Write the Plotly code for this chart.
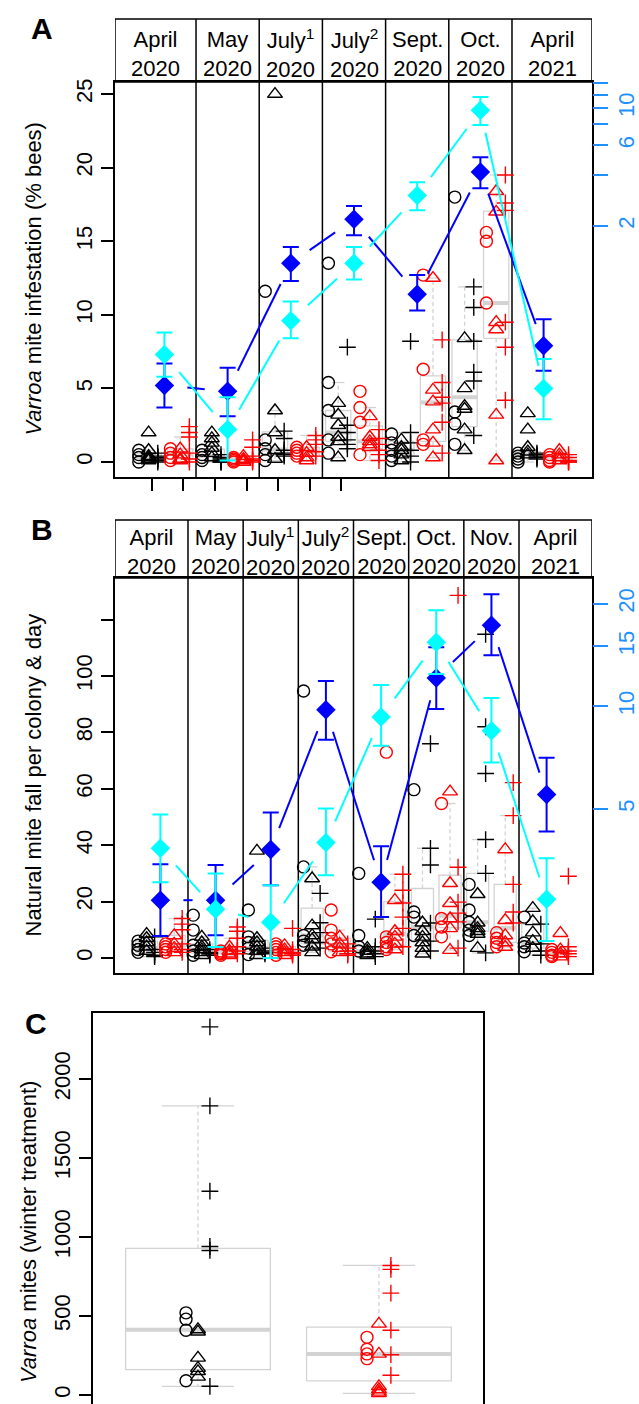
import math
import plotly.graph_objects as go

W, H = 639, 1404
FONT = "Liberation Sans, Arial, Helvetica, sans-serif"
BLUE = "#0000FF"
CYAN = "#00FFFF"
RED = "#FF0000"
BLK = "#000000"
GRAY = "#D3D3D3"
DODGER = "#1E90FF"

# ---------------- Panel A data (infestation, % bees) ----------------
A_MONTHS = ["April<br>2020", "May<br>2020", "July<sup>1</sup><br>2020", "July<sup>2</sup><br>2020",
            "Sept.<br>2020", "Oct.<br>2020", "April<br>2021"]
A_BLK_CIRC = [[0.8, 0.5, 0.3, 0.0], [0.8, 0.5, 0.3, 0.1], [11.6, 1.5, 0.9, 0.5, 0.1],
              [13.5, 5.4, 3.5, 1.5, 0.6], [1.9, 1.3, 0.8, 0.4, 0.1], [18.0, 3.4, 2.6, 1.2],
              [0.6, 0.4, 0.2, 0.0]]
A_BLK_TRI = [[2.0, 0.8, 0.4, 0.3, 0.2, 0.1], [2.0, 1.6, 1.3, 0.95, 0.6, 0.3], [25.0, 3.5, 2.0, 0.8, 0.2],
             [4.0, 3.2, 2.5, 1.7, 1.4, 0.3], [1.5, 1.0, 0.8, 0.5, 0.1], [8.4, 5.0, 3.8, 3.6, 2.2, 0.8],
             [3.3, 2.2, 1.0, 0.7, 0.5]]
A_BLK_PLUS = [[0.6, 0.4, 0.3, 0.2, 0.1, 0.0], [0.5, 0.3, 0.2, 0.1, 0.0, 0.0], [2.1, 1.6, 0.8, 0.6, 0.5, 0.4],
              [7.8, 2.5, 2.0, 1.5, 1.2, 0.9], [8.2, 2.0, 1.3, 0.8, 0.4, 0.0], [11.9, 10.5, 8.2, 6.1, 5.5, 1.8],
              [0.6, 0.5, 0.4, 0.3, 0.2]]
A_RED_CIRC = [[0.9, 0.6, 0.3, 0.1], [0.3, 0.2, 0.1, 0.0], [1.0, 0.8, 0.6, 0.4], [4.8, 3.7, 2.7, 0.5],
              [12.7, 6.3, 1.5, 1.2], [15.6, 15.0, 10.8], [0.5, 0.3, 0.1, 0.0]]
A_RED_TRI = [[0.9, 0.5, 0.2, 0.1], [0.4, 0.2, 0.1, 0.0], [1.0, 0.6, 0.3, 0.1], [3.1, 1.7, 1.4, 1.2, 1.0],
             [12.5, 4.9, 4.1, 2.2, 1.3, 0.3], [18.4, 17.0, 9.5, 9.0, 3.2, 0.1], [0.8, 0.5, 0.3, 0.1]]
A_RED_PLUS = [[2.4, 2.0, 1.7, 0.6, 0.2, 0.0], [1.5, 1.0, 0.4, 0.2, 0.1, 0.0], [1.8, 1.5, 1.2, 0.7, 0.4],
              [2.2, 1.6, 1.2, 0.8, 0.5, 0.1], [8.3, 5.4, 4.4, 4.0, 2.7, 0.6], [19.5, 17.6, 17.1, 9.5, 7.8, 4.2],
              [0.5, 0.3, 0.1, 0.0, 0.0]]
A_BLUE = [5.2, 4.8, 13.5, 16.5, 11.4, 19.7, 7.9]
A_BLUE_HI = [6.7, 6.4, 14.6, 17.4, 12.7, 20.7, 9.7]
A_BLUE_LO = [3.7, 3.1, 12.3, 15.4, 10.3, 18.6, 6.2]
A_CYAN = [7.3, 2.2, 9.6, 13.5, 18.1, 23.9, 5.0]
A_CYAN_HI = [8.8, 4.4, 10.9, 14.6, 19.0, 24.8, 7.0]
A_CYAN_LO = [5.8, 0.1, 8.4, 12.4, 17.1, 22.9, 2.9]
A_YTICKS = [0, 5, 10, 15, 20, 25]
A_Y2TICKS = [2, 6, 10]
A_Y2MINOR = [4, 8, 12, 14]
A_XTICKS = [0.3, 0.8, 1.3, 1.8, 2.3, 2.8, 3.3]

# ---------------- Panel B data (natural mite fall) ----------------
B_MONTHS = ["April<br>2020", "May<br>2020", "July<sup>1</sup><br>2020", "July<sup>2</sup><br>2020",
            "Sept.<br>2020", "Oct.<br>2020", "Nov.<br>2020", "April<br>2021"]
B_BLK_CIRC = [[6.0, 4.5, 3.0, 2.0], [15.2, 9.9, 4.5, 2.5, 1.0], [17.0, 7.5, 5.5, 3.5, 1.2],
              [94.7, 32.3, 8.0, 6.0, 4.5], [30.0, 8.0, 4.0, 2.5], [59.7, 16.3, 14.5, 8.0],
              [26.1, 17.0, 12.7, 9.9, 8.0], [14.5, 5.3, 4.0, 2.2]]
B_BLK_TRI = [[8.5, 7.0, 5.5, 4.0, 2.5], [7.5, 5.5, 4.0, 3.0, 2.0, 1.0], [38.0, 7.0, 5.5, 4.0, 2.5, 1.0],
             [28.2, 11.5, 8.0, 6.5, 4.0, 2.0], [3.5, 2.5, 1.5, 1.0], [12.5, 9.5, 7.5, 5.5, 3.5, 1.5],
             [22.6, 12.5, 10.5, 9.5, 8.5, 3.5], [17.7, 13.0, 9.0, 6.0, 3.5]]
B_BLK_PLUS = [[7.5, 3.0, 2.0, 1.0, 0.5], [3.0, 2.0, 1.5, 1.0], [3.5, 2.5, 2.0, 1.5],
              [22.9, 12.5, 9.0, 5.5, 3.5], [13.8, 4.0, 2.5, 1.5, 0.5], [76.0, 38.9, 33.0, 12.4, 6.0, 2.5],
              [114.8, 82.0, 65.4, 42.0, 30.0, 1.8], [12.0, 5.0, 2.5, 1.0]]
B_RED_CIRC = [[5.0, 4.0, 3.0, 2.0], [2.5, 2.0, 1.5, 1.0], [5.0, 4.0, 3.0, 2.0, 1.0],
              [17.0, 9.9, 7.0, 5.0, 2.2], [73.0, 7.5, 5.5, 4.0, 3.0], [54.8, 14.0, 11.0, 7.5],
              [9.0, 7.0, 5.5, 4.0], [3.0, 2.0, 1.0, 0.5]]
B_RED_TRI = [[8.0, 5.0, 3.5, 2.0], [4.0, 2.5, 1.5, 1.0], [4.5, 3.0, 2.0, 1.0], [7.5, 5.0, 3.5, 2.0],
             [20.5, 9.5, 7.5, 5.0, 3.0], [59.0, 26.5, 19.4, 14.0, 10.5, 2.8], [38.5, 13.4, 8.0, 5.5, 3.9],
             [8.8, 3.0, 1.5, 0.5]]
B_RED_PLUS = [[14.0, 12.0, 10.0, 5.0, 3.0, 2.0], [11.0, 9.5, 7.0, 4.0, 2.5, 1.5], [10.5, 3.0, 2.0, 1.5, 1.0],
              [5.0, 3.5, 2.5, 1.5, 1.0], [29.7, 24.0, 19.5, 14.5, 10.5, 4.0],
              [128.6, 32.2, 19.8, 15.9, 12.8, 3.5], [62.2, 50.5, 26.1, 16.3, 12.4], [29.0, 4.0, 2.5, 1.5, 0.5]]
B_BLUE = [20.5, 20.5, 38.5, 88.0, 26.9, 99.3, 118.0, 58.0]
B_BLUE_HI = [33.2, 33.0, 51.6, 98.2, 39.6, 110.2, 129.0, 71.0]
B_BLUE_LO = [7.8, 8.1, 25.8, 77.4, 14.5, 88.3, 107.4, 44.9]
B_CYAN = [38.9, 17.3, 12.7, 41.0, 85.5, 112.0, 80.6, 20.8]
B_CYAN_HI = [50.9, 30.0, 25.8, 53.0, 96.8, 123.3, 92.2, 35.4]
B_CYAN_LO = [26.9, 3.9, 0.0, 29.3, 75.3, 100.7, 69.3, 6.0]
B_YTICKS = [0, 20, 40, 60, 80, 100]
B_YMINOR = [120]
B_Y2TICKS = [5, 10, 15, 20]

# ---------------- Panel C data (winter treatment mites) ----------------
C_BLK_CIRC = [520, 480, 410, 90]
C_BLK_TRI = [415, 400, 235, 170, 150, 115]
C_BLK_PLUS = [2330, 1830, 1290, 940, 915, 55]
C_RED_CIRC = [365, 290, 260, 230]
C_RED_TRI = [450, 260, 55, 35, 20, 10]
C_RED_PLUS = [820, 795, 645, 410, 255, 125]
C_YTICKS = [0, 500, 1000, 1500, 2000]

# ---------------- layout geometry (pixels) ----------------
A_PX = dict(l=115, r=592, t=82, b=477, ht=19)
B_PX = dict(l=115, r=592, t=578, b=973, ht=520)
C_PX = dict(l=93, r=483, t=1013, b=1404)
A_XRANGE = [-0.282, 7.266]
A_YRANGE = [-1.02, 25.82]
A_Y2RANGE = [-1.186, 1.154]
B_XRANGE = [-0.323, 8.323]
B_YRANGE = [-5.32, 134.75]
B_Y2RANGE = [0.217, 1.377]
C_XRANGE = [0.42, 2.575]
C_YRANGE = [-57, 2418]


def fx(px):
    return px / W


def fy(py):
    return 1 - py / H


def fivenum(v):
    s = sorted(v)
    n = len(s)
    n4 = math.floor((n + 3) / 2) / 2
    d = [1, n4, (n + 1) / 2, n + 1 - n4, n]
    return [0.5 * (s[math.floor(k) - 1] + s[math.ceil(k) - 1]) for k in d]


def box_stats(v):
    _, q1, med, q3, _ = fivenum(v)
    iqr = q3 - q1
    lo = min(x for x in v if x >= q1 - 1.5 * iqr)
    hi = max(x for x in v if x <= q3 + 1.5 * iqr)
    return lo, q1, med, q3, hi


fig = go.Figure()


def add_boxes(centers, groups, width, xa, ya):
    rx, ry, wx, wy, sx, sy, mx, my = [], [], [], [], [], [], [], []
    for c, vals in zip(centers, groups):
        lo, q1, med, q3, hi = box_stats(vals)
        l, r = c - width / 2, c + width / 2
        rx += [l, r, r, l, l, None]
        ry += [q1, q1, q3, q3, q1, None]
        wx += [c, c, None, c, c, None]
        wy += [q3, hi, None, q1, lo, None]
        sx += [c - width / 4, c + width / 4, None, c - width / 4, c + width / 4, None]
        sy += [hi, hi, None, lo, lo, None]
        mx += [l, r, None]
        my += [med, med, None]
    common = dict(mode="lines", xaxis=xa, yaxis=ya, hoverinfo="skip", showlegend=False)
    fig.add_trace(go.Scatter(x=wx, y=wy, line=dict(color=GRAY, width=1.3, dash="4px,3px"), **common))
    fig.add_trace(go.Scatter(x=sx, y=sy, line=dict(color=GRAY, width=1.3), **common))
    fig.add_trace(go.Scatter(x=rx, y=ry, line=dict(color=GRAY, width=1.3), **common))
    fig.add_trace(go.Scatter(x=mx, y=my, line=dict(color=GRAY, width=4), **common))


SYMBOLS = {"c": ("circle-open", 12), "t": ("triangle-up-open", 13), "p": ("cross-thin-open", 12)}


def add_points(xs, ys, kind, color, xa, ya):
    sym, size = SYMBOLS[kind]
    fig.add_trace(go.Scatter(x=xs, y=ys, mode="markers", xaxis=xa, yaxis=ya, hoverinfo="skip",
                             showlegend=False,
                             marker=dict(symbol=sym, size=size, color=color,
                                         line=dict(color=color, width=1.4))))


def gapped(xs, ys, xr, yr, pxw, pxh, gap=23):
    kx = pxw / (xr[1] - xr[0])
    ky = pxh / (yr[1] - yr[0])
    ox, oy = [], []
    for i in range(len(xs) - 1):
        x1, y1, x2, y2 = xs[i], ys[i], xs[i + 1], ys[i + 1]
        L = math.hypot((x2 - x1) * kx, (y2 - y1) * ky)
        if L <= 2 * gap:
            continue
        f = gap / L
        ox += [x1 + (x2 - x1) * f, x2 - (x2 - x1) * f, None]
        oy += [y1 + (y2 - y1) * f, y2 - (y2 - y1) * f, None]
    return ox, oy


def add_panel(xa, ya, px, xr, yr, groups, means):
    n = len(groups[0])
    offs = {"c": -0.155, "t": 0.0, "p": 0.145}
    blk_groups = [groups[0][i] + groups[1][i] + groups[2][i] for i in range(n)]
    red_groups = [groups[3][i] + groups[4][i] + groups[5][i] for i in range(n)]
    add_boxes([i + 0.25 for i in range(n)], blk_groups, 0.4, xa, ya)
    add_boxes([i + 0.75 for i in range(n)], red_groups, 0.4, xa, ya)
    for gi, (kind, color, base) in enumerate([("c", BLK, 0.25), ("t", BLK, 0.25), ("p", BLK, 0.25),
                                              ("c", RED, 0.75), ("t", RED, 0.75), ("p", RED, 0.75)]):
        xs, ys = [], []
        for i in range(n):
            for v in groups[gi][i]:
                xs.append(i + base + offs[kind])
                ys.append(v)
        add_points(xs, ys, kind, color, xa, ya)
    pxw = px["r"] - px["l"]
    pxh = px["b"] - px["t"]
    for vals, hi, lo, color in means:
        xs = [i + 0.5 for i in range(n)]
        lx, ly = gapped(xs, vals, xr, yr, pxw, pxh)
        fig.add_trace(go.Scatter(x=lx, y=ly, mode="lines", xaxis=xa, yaxis=ya, hoverinfo="skip",
                                 showlegend=False, line=dict(color=color, width=2)))
        fig.add_trace(go.Scatter(
            x=xs, y=vals, mode="markers", xaxis=xa, yaxis=ya, hoverinfo="skip", showlegend=False,
            marker=dict(symbol="diamond", size=15, color=color, line=dict(width=0)),
            error_y=dict(type="data", array=[h - v for h, v in zip(hi, vals)],
                         arrayminus=[v - l for v, l in zip(vals, lo)],
                         color=color, thickness=2, width=8)))


add_panel("x", "y", A_PX, A_XRANGE, A_YRANGE,
          [A_BLK_CIRC, A_BLK_TRI, A_BLK_PLUS, A_RED_CIRC, A_RED_TRI, A_RED_PLUS],
          [(A_BLUE, A_BLUE_HI, A_BLUE_LO, BLUE), (A_CYAN, A_CYAN_HI, A_CYAN_LO, CYAN)])
add_panel("x2", "y3", B_PX, B_XRANGE, B_YRANGE,
          [B_BLK_CIRC, B_BLK_TRI, B_BLK_PLUS, B_RED_CIRC, B_RED_TRI, B_RED_PLUS],
          [(B_BLUE, B_BLUE_HI, B_BLUE_LO, BLUE), (B_CYAN, B_CYAN_HI, B_CYAN_LO, CYAN)])

# empty traces so the secondary (right) axes are drawn
fig.add_trace(go.Scatter(x=[None], y=[None], xaxis="x", yaxis="y2", showlegend=False, hoverinfo="skip"))
fig.add_trace(go.Scatter(x=[None], y=[None], xaxis="x2", yaxis="y4", showlegend=False, hoverinfo="skip"))

# Panel C
add_boxes([1, 2], [C_BLK_CIRC + C_BLK_TRI + C_BLK_PLUS, C_RED_CIRC + C_RED_TRI + C_RED_PLUS], 0.8, "x3", "y5")
for vals, kind, color, pos in [(C_BLK_CIRC, "c", BLK, 1), (C_BLK_TRI, "t", BLK, 1), (C_BLK_PLUS, "p", BLK, 1),
                               (C_RED_CIRC, "c", RED, 2), (C_RED_TRI, "t", RED, 2), (C_RED_PLUS, "p", RED, 2)]:
    off = {"c": -0.066, "t": 0.0, "p": 0.066}[kind]
    add_points([pos + off] * len(vals), vals, kind, color, "x3", "y5")

axis_common = dict(showgrid=False, zeroline=False, showline=True, mirror=True, linecolor=BLK, linewidth=1.5,
                   tickcolor=BLK, tickwidth=1.5, ticklen=12, ticks="outside", automargin=False,
                   tickfont=dict(family=FONT, size=22, color=BLK))
right_common = dict(showgrid=False, zeroline=False, showline=False, side="right", type="log",
                    ticks="outside", tickcolor=DODGER, tickwidth=2, ticklen=15, tickangle=-90,
                    automargin=False, tickfont=dict(family=FONT, size=22, color=DODGER))

fig.update_layout(
    template="none",
    width=W, height=H, autosize=False, margin=dict(l=0, r=0, t=0, b=0, pad=0),
    paper_bgcolor="white", plot_bgcolor="white", showlegend=False,
    font=dict(family=FONT, size=22, color=BLK),
    xaxis=dict(domain=[fx(A_PX["l"]), fx(A_PX["r"])], range=A_XRANGE, anchor="y",
               tickvals=A_XTICKS, showticklabels=False, **axis_common),
    yaxis=dict(domain=[fy(A_PX["b"]), fy(A_PX["t"])], range=A_YRANGE, anchor="x",
               tickvals=A_YTICKS, tickangle=-90, **axis_common),
    yaxis2=dict(overlaying="y", anchor="x", range=A_Y2RANGE, tickvals=A_Y2TICKS,
                minor=dict(tickvals=A_Y2MINOR, ticks="outside", ticklen=15, tickcolor=DODGER, tickwidth=2,
                           showgrid=False),
                **right_common),
    xaxis2=dict(domain=[fx(B_PX["l"]), fx(B_PX["r"])], range=B_XRANGE, anchor="y3",
                tickvals=[], showticklabels=False, **axis_common),
    yaxis3=dict(domain=[fy(B_PX["b"]), fy(B_PX["t"])], range=B_YRANGE, anchor="x2",
                tickvals=B_YTICKS, tickangle=-90,
                minor=dict(tickvals=B_YMINOR, ticks="outside", ticklen=12, tickcolor=BLK, tickwidth=1.5,
                           showgrid=False),
                **axis_common),
    yaxis4=dict(overlaying="y3", anchor="x2", range=B_Y2RANGE, tickvals=B_Y2TICKS, **right_common),
    xaxis3=dict(domain=[fx(C_PX["l"]), fx(C_PX["r"])], range=C_XRANGE, anchor="y5",
                tickvals=[], showticklabels=False, **axis_common),
    yaxis5=dict(domain=[fy(C_PX["b"]), fy(C_PX["t"])], range=C_YRANGE, anchor="x3",
                tickvals=C_YTICKS, tickangle=-90, **axis_common),
)

shapes = []
annotations = []


def header(xref, px, xr, months):
    n = len(months)
    shapes.append(dict(type="rect", xref=xref, yref="paper", x0=xr[0], x1=xr[1],
                       y0=fy(px["t"]), y1=fy(px["ht"]), line=dict(color=BLK, width=1.5), layer="above"))
    for i in range(1, n):
        shapes.append(dict(type="line", xref=xref, yref="paper", x0=i, x1=i,
                           y0=fy(px["b"]), y1=fy(px["ht"]), line=dict(color=BLK, width=1.5), layer="below"))
    bounds = [xr[0]] + list(range(1, n)) + [xr[1]]
    for i, m in enumerate(months):
        annotations.append(dict(text=m, xref=xref, yref="paper", x=(bounds[i] + bounds[i + 1]) / 2,
                                y=fy((px["t"] + px["ht"]) / 2 + 3), xanchor="center", yanchor="middle",
                                showarrow=False, font=dict(family=FONT, size=22, color=BLK)))


header("x", A_PX, A_XRANGE, A_MONTHS)
header("x2", B_PX, B_XRANGE, B_MONTHS)

for letter, x, y in [("A", 42, 29), ("B", 42, 530), ("C", 36, 1023)]:
    annotations.append(dict(text="<b>%s</b>" % letter, xref="paper", yref="paper", x=fx(x), y=fy(y),
                            xanchor="center", yanchor="middle", showarrow=False,
                            font=dict(family=FONT, size=30, color=BLK)))

for text, x, y in [("<i>Varroa</i> mite infestation (% bees)", 33, (A_PX["t"] + A_PX["b"]) / 2),
                   ("Natural mite fall per colony &amp; day", 33, (B_PX["t"] + B_PX["b"]) / 2),
                   ("<i>Varroa</i> mites (winter treatment)", 28, 1232)]:
    annotations.append(dict(text=text, xref="paper", yref="paper", x=fx(x), y=fy(y), textangle=-90,
                            xanchor="center", yanchor="middle", showarrow=False,
                            font=dict(family=FONT, size=22, color=BLK)))

fig.update_layout(shapes=shapes, annotations=annotations)

POST = ("document.body.style.margin='0';document.body.style.padding='0';"
        "document.documentElement.style.overflow='hidden';document.body.style.overflow='hidden';")
fig.write_html("out.html", config={"displayModeBar": False}, post_script=POST)
